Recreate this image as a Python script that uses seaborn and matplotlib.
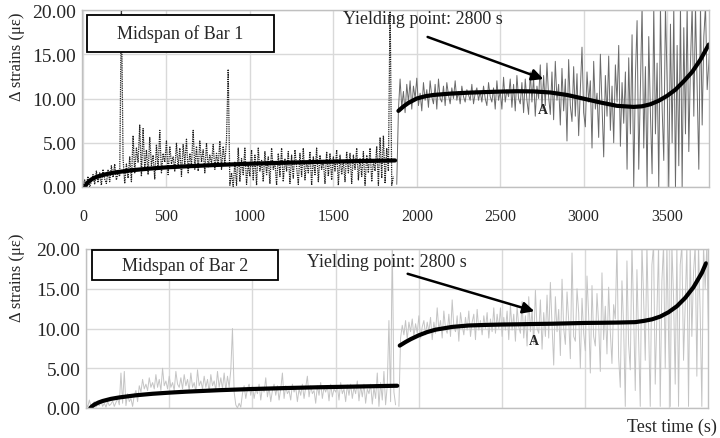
import numpy as np
import pandas as pd
import matplotlib
matplotlib.use("Agg")
import matplotlib.pyplot as plt
from matplotlib.patches import Rectangle, FancyArrowPatch
import seaborn as sns

# ---------------- data ----------------
step = 10  # sampling interval of the hand-read signals (s)

# Bar 1, stage 1 (t = 0 .. 1860 s)
bar1_stage1 = [
    0.0, 0.8, 0.2, 1.2, 0.0, 0.6, 1.4, 0.3, 1.8, 0.5,
    1.6, 0.2, 2.0, 0.9, 0.4, 1.9, 0.6, 2.4, 1.1, 2.6,
    0.8, 1.6, 1.2, 21.0, 3.2, 0.4, 2.6, 1.0, 3.4, 0.6,
    5.8, 1.6, 4.4, 2.8, 7.0, 1.2, 6.6, 2.0, 4.2, 1.4,
    5.6, 2.4, 3.6, 0.9, 4.8, 2.0, 6.4, 1.6, 3.8, 2.8,
    5.2, 1.4, 4.6, 2.6, 3.4, 1.8, 5.0, 2.2, 4.4, 1.2,
    4.8, 2.6, 5.4, 1.6, 3.8, 2.4, 6.4, 2.0, 4.6, 1.8,
    5.2, 2.8, 4.2, 1.6, 5.0, 2.2, 3.6, 2.6, 4.8, 2.0,
    3.8, 2.4, 5.2, 2.0, 4.6, 2.6, 5.4, 13.3, 0.2, 1.6,
    0.0, 2.8, 0.2, 4.4, 0.6, 3.2, 1.4, 4.4, 0.3, 2.6,
    1.2, 4.2, 0.8, 3.6, 0.2, 4.4, 1.8, 3.0, 0.6, 4.0,
    1.4, 3.4, 0.4, 4.4, 2.0, 2.8, 0.2, 3.8, 1.2, 4.4,
    0.6, 3.2, 1.8, 4.0, 0.4, 3.6, 1.0, 4.2, 2.2, 0.3,
    3.8, 1.2, 4.4, 0.8, 3.0, 1.6, 4.0, 0.2, 3.4, 1.4,
    4.4, 0.6, 3.6, 2.0, 3.0, 0.4, 4.0, 1.2, 3.8, 0.8,
    3.4, 1.8, 4.2, 0.2, 3.6, 1.4, 3.0, 0.6, 4.0, 1.6,
    3.8, 0.4, 3.6, 2.0, 4.4, 0.8, 3.2, 1.2, 4.0, 0.2,
    3.6, 1.6, 4.4, 0.6, 3.0, 1.8, 4.6, 0.2, 5.6, 1.0,
    5.8, 0.4, 4.4, 1.8, 21.0, 0.2, 1.2,
]
# Bar 1, stage 2 (t = 1880 .. 3760 s)
bar1_stage2 = [
    0.3, 8.7, 12.2, 9.0, 10.8, 8.4, 11.6, 9.6, 12.0, 8.8,
    11.4, 10.0, 12.3, 9.2, 10.6, 8.6, 11.8, 9.8, 11.0, 9.0,
    12.0, 10.2, 9.4, 11.6, 8.8, 12.2, 10.0, 9.6, 11.4, 9.2,
    11.8, 10.4, 9.4, 11.2, 10.0, 12.0, 9.8, 10.8, 9.4, 11.4,
    10.2, 9.6, 11.0, 10.4, 9.8, 11.6, 9.4, 10.6, 11.2, 9.8,
    10.8, 9.6, 11.4, 10.0, 9.2, 11.8, 10.2, 9.6, 11.2, 8.8,
    12.0, 9.8, 10.8, 8.8, 12.4, 9.6, 11.0, 10.2, 12.2, 9.0,
    11.6, 8.6, 12.6, 10.0, 9.4, 11.8, 8.4, 12.2, 9.8, 8.2,
    13.0, 9.6, 12.4, 8.0, 11.4, 10.0, 13.8, 8.8, 12.6, 9.2,
    14.0, 10.2, 8.2, 13.0, 7.6, 14.2, 9.8, 11.6, 7.0, 13.4,
    8.6, 12.2, 5.2, 14.4, 9.2, 7.4, 13.6, 8.0, 12.8, 5.8,
    11.0, 15.8, 8.4, 6.8, 13.0, 9.6, 12.0, 4.4, 14.2, 8.8,
    10.6, 5.6, 15.0, 9.2, 3.4, 12.6, 8.0, 14.8, 6.4, 11.4,
    5.0, 13.8, 9.6, 16.0, 4.6, 11.8, 7.2, 13.0, 2.0, 14.6,
    6.0, 17.2, 0.0, 12.4, 18.8, 2.0, 11.0, 20.5, 4.4, 13.6,
    0.0, 17.0, 8.4, 1.5, 20.5, 6.0, 14.0, 0.0, 20.5, 9.0,
    3.0, 20.5, 12.0, 0.0, 18.4, 5.0, 20.5, 0.0, 16.0, 2.4,
    20.5, 0.0, 18.0, 6.0, 20.5, 4.0, 14.0, 20.5, 8.0, 20.5,
    11.0, 2.0, 20.5, 7.0, 17.0, 20.5, 11.0, 14.0, 18.0,
]
# Bar 2, stage 1 (t = 0 .. 1860 s)
bar2_stage1 = [
    0.6, 0.1, 1.0, 0.2, 0.4, 0.8, 0.1, 0.5, 0.3, 0.9,
    0.2, 0.6, 0.1, 0.8, 0.3, 0.5, 0.9, 0.2, 0.7, 1.2,
    0.4, 4.4, 0.6, 4.6, 0.3, 1.8, 0.8, 1.2, 0.2, 1.6,
    2.2, 0.8, 2.8, 2.0, 3.6, 2.4, 3.0, 2.2, 3.8, 2.6,
    3.2, 2.4, 4.2, 2.6, 3.6, 2.2, 5.0, 2.8, 3.4, 2.4,
    4.0, 2.6, 3.2, 2.2, 4.6, 3.0, 2.6, 3.8, 2.4, 4.2,
    2.8, 3.6, 2.2, 4.4, 2.6, 3.2, 2.0, 4.8, 2.8, 3.4,
    2.4, 4.0, 2.6, 3.6, 2.0, 4.2, 2.8, 3.4, 2.2, 4.6,
    2.6, 3.8, 2.4, 4.4, 2.2, 4.0, 2.6, 4.8, 10.0, 2.0,
    0.4, 0.0, 0.6, 0.1, 1.8, 2.8, 1.2, 2.4, 3.0, 1.6,
    2.8, 1.2, 2.4, 1.8, 3.0, 1.0, 2.6, 2.0, 3.8, 1.4,
    2.6, 0.8, 2.2, 3.0, 1.6, 2.8, 1.0, 2.4, 4.4, 1.2,
    2.8, 1.8, 2.2, 1.0, 3.0, 2.0, 2.6, 0.8, 2.4, 1.6,
    3.0, 1.2, 2.6, 4.0, 1.4, 2.8, 1.8, 2.2, 0.6, 2.8,
    1.6, 3.2, 1.2, 2.6, 2.0, 2.8, 0.9, 3.0, 1.4, 2.4,
    2.0, 2.8, 1.0, 3.2, 1.8, 2.4, 0.8, 2.9, 1.6, 3.0,
    1.2, 2.6, 1.8, 3.4, 0.9, 2.8, 1.4, 3.0, 0.6, 2.4,
    1.8, 3.0, 0.5, 2.6, 1.2, 4.4, 0.2, 3.2, 1.0, 4.6,
    0.4, 2.8, 11.0, 0.8, 21.0, 2.0, 0.4,
]
# Bar 2, stage 2 (t = 1880 .. 3740 s)
bar2_stage2 = [
    0.2, 8.8, 10.4, 9.2, 11.0, 8.6, 10.8, 9.6, 11.2, 9.0,
    10.6, 9.4, 11.6, 8.8, 10.2, 11.0, 9.2, 10.8, 9.6, 11.4,
    8.6, 10.8, 9.4, 12.6, 9.8, 11.0, 8.8, 12.2, 10.0, 9.4,
    11.8, 9.0, 13.6, 10.2, 9.6, 11.6, 8.4, 12.0, 10.4, 9.2,
    11.4, 9.8, 12.2, 9.0, 10.8, 11.8, 8.6, 12.4, 9.8, 11.0,
    9.2, 11.6, 10.0, 12.0, 8.8, 11.2, 9.6, 12.6, 9.4, 11.8,
    10.0, 12.6, 9.0, 11.4, 9.8, 12.2, 8.6, 13.0, 9.8, 11.8,
    8.4, 12.8, 10.2, 9.4, 13.4, 8.8, 11.6, 7.8, 14.0, 9.6,
    12.4, 8.0, 14.8, 10.0, 9.4, 13.6, 7.4, 12.0, 9.0, 14.2,
    8.8, 15.8, 10.4, 5.4, 14.0, 9.6, 12.4, 6.6, 16.2, 10.0,
    8.0, 14.6, 11.0, 6.2, 19.5, 9.0, 8.4, 15.0, 12.0, 5.0,
    13.8, 9.4, 7.2, 16.6, 11.6, 4.4, 15.4, 9.0, 7.8, 14.4,
    10.6, 4.6, 17.0, 8.6, 12.8, 6.8, 15.2, 9.6, 5.6, 13.0,
    11.2, 20.5, 6.4, 2.6, 16.0, 10.4, 0.2, 18.5, 8.0, 4.8,
    20.5, 12.0, 2.2, 17.4, 9.0, 0.2, 20.5, 14.0, 6.0, 20.5,
    10.0, 0.2, 18.0, 20.5, 3.0, 12.0, 20.5, 0.2, 16.0, 20.5,
    5.0, 20.5, 9.0, 0.2, 20.5, 14.0, 3.0, 20.5, 0.2, 18.0,
    20.5, 6.0, 13.0, 20.5, 0.2, 20.5, 9.0, 17.0, 20.5, 4.0,
    20.5, 12.0, 0.2, 20.5, 15.0, 20.5, 9.0,
]

# Trend lines
fit1a_t = [12, 20, 30, 50, 75, 100, 150, 200, 300, 400, 500, 600, 800, 1000, 1200, 1400, 1600, 1870]
fit1a_v = [0.0, 0.30, 0.54, 0.85, 1.09, 1.26, 1.50, 1.67, 1.91, 2.08, 2.22, 2.32, 2.49, 2.63, 2.74, 2.83, 2.91, 3.00]
fit1b_t = [1890, 1920, 1950, 2000, 2050, 2100, 2200, 2300, 2400, 2500, 2600, 2700, 2800, 2900, 3000,
           3100, 3200, 3300, 3350, 3400, 3450, 3500, 3550, 3600, 3650, 3700, 3750]
fit1b_v = [8.6, 9.1, 9.5, 10.0, 10.25, 10.4, 10.55, 10.65, 10.72, 10.78, 10.82, 10.8, 10.68, 10.4, 9.98,
           9.55, 9.17, 9.05, 9.12, 9.35, 9.75, 10.3, 11.0, 11.95, 13.0, 14.4, 16.1]
fit2a_t = [26, 35, 50, 75, 100, 150, 200, 300, 400, 500, 600, 800, 1000, 1200, 1400, 1600, 1870]
fit2a_v = [0.0, 0.19, 0.43, 0.69, 0.88, 1.15, 1.33, 1.60, 1.79, 1.93, 2.05, 2.24, 2.39, 2.51, 2.61, 2.69, 2.80]
fit2b_t = [1885, 1920, 1950, 2000, 2050, 2100, 2200, 2300, 2400, 2500, 2600, 2700, 2800, 2900, 3000,
           3100, 3200, 3300, 3350, 3400, 3450, 3500, 3550, 3600, 3650, 3700, 3725]
fit2b_v = [7.85, 8.3, 8.65, 9.15, 9.55, 9.85, 10.2, 10.38, 10.45, 10.5, 10.53, 10.57, 10.6, 10.65, 10.7,
           10.72, 10.75, 10.8, 10.95, 11.15, 11.5, 12.05, 12.8, 13.85, 15.2, 17.0, 18.2]

x_ticks = [0, 500, 1000, 1500, 2000, 2500, 3000, 3500]
y_ticks = [0, 5, 10, 15, 20]

# ---------------- styling ----------------
sns.set_style("white")
plt.rcParams["font.family"] = ["Liberation Serif", "DejaVu Serif"]

W, H = 720, 439
fig = plt.figure(figsize=(7.2, 4.39), dpi=100)


def fx(px):
    return px / W


def fy(py):
    return 1 - py / H


ax1 = fig.add_axes([fx(82), fy(188), (709 - 82) / W, (188 - 11) / H])
ax2 = fig.add_axes([fx(86), fy(409), (708 - 86) / W, (409 - 250) / H])


def signal_frame(values, t0):
    t = t0 + np.arange(len(values)) * step
    return pd.DataFrame({"t": t, "v": values})


def style_axes(ax, xlim, show_xlabels):
    ax.set_xlim(*xlim)
    ax.set_ylim(0, 20)
    ax.set_xticks(x_ticks)
    ax.set_yticks(y_ticks)
    ax.set_yticklabels([f"{v:.2f}" for v in y_ticks], fontsize=14)
    if show_xlabels:
        ax.set_xticklabels([str(v) for v in x_ticks], fontsize=11.5)
    else:
        ax.set_xticklabels([])
    ax.tick_params(axis="x", length=0, pad=15)
    ax.tick_params(axis="y", length=0, pad=4)
    ax.grid(True, color="#d9d9d9", lw=1.0)
    ax.set_axisbelow(True)
    for s in ax.spines.values():
        s.set_color("#c0c0c0")
        s.set_linewidth(1.0)
    ax.set_xlabel("")
    ax.set_ylabel("")


# ---- top panel: Bar 1 ----
d = signal_frame(bar1_stage1, 0)
sns.lineplot(data=d, x="t", y="v", ax=ax1, color="#202020", lw=0.9,
             linestyle=(0, (1, 0.8)), estimator=None, sort=False)
d = signal_frame(bar1_stage2, 1880)
sns.lineplot(data=d, x="t", y="v", ax=ax1, color="#6a6a6a", lw=0.7,
             estimator=None, sort=False)
sns.lineplot(x=fit1a_t, y=fit1a_v, ax=ax1, color="black", lw=3.0, estimator=None, sort=False)
sns.lineplot(x=fit1b_t, y=fit1b_v, ax=ax1, color="black", lw=3.0, estimator=None, sort=False)
style_axes(ax1, (-6, 3751), True)

# ---- bottom panel: Bar 2 ----
d = signal_frame(bar2_stage1, 0)
sns.lineplot(data=d, x="t", y="v", ax=ax2, color="#c4c4c4", lw=0.7,
             estimator=None, sort=False)
d = signal_frame(bar2_stage2, 1880)
sns.lineplot(data=d, x="t", y="v", ax=ax2, color="#c4c4c4", lw=0.7,
             estimator=None, sort=False)
sns.lineplot(x=fit2a_t, y=fit2a_v, ax=ax2, color="black", lw=3.0, estimator=None, sort=False)
sns.lineplot(x=fit2b_t, y=fit2b_v, ax=ax2, color="black", lw=3.0, estimator=None, sort=False)
style_axes(ax2, (6, 3737), False)

# ---- annotations ----
for (x0, y0, x1, y1), label in [((87, 16, 274, 53), "Midspan of Bar 1"),
                                ((92, 251, 278, 281), "Midspan of Bar 2")]:
    fig.patches.append(Rectangle((fx(x0), fy(y1)), (x1 - x0) / W, (y1 - y0) / H,
                                 transform=fig.transFigure, fill=True, facecolor="white",
                                 edgecolor="black", lw=1.3, zorder=5))
    fig.text(fx((x0 + x1) / 2), fy((y0 + y1) / 2), label, ha="center", va="center",
             fontsize=13, zorder=6)

fig.text(fx(343), fy(20), "Yielding point: 2800 s", ha="left", va="center", fontsize=13)
fig.text(fx(307), fy(263), "Yielding point: 2800 s", ha="left", va="center", fontsize=13)

for (sx, sy), (tx, ty) in [((425, 37), (546, 81)), ((405, 274), (537, 313))]:
    fig.add_artist(FancyArrowPatch(
        (fx(sx), fy(sy)), (fx(tx), fy(ty)), transform=fig.transFigure,
        arrowstyle="-|>", mutation_scale=17, color="black", lw=1.8, zorder=7))

fig.text(fx(543), fy(110), "A", ha="center", va="center", fontsize=10, fontweight="bold")
fig.text(fx(534), fy(342), "A", ha="center", va="center", fontsize=10, fontweight="bold")

fig.text(fx(17), fy(57), "Δ strains (με)", rotation=90, ha="center", va="center", fontsize=12)
fig.text(fx(17), fy(278), "Δ strains (με)", rotation=90, ha="center", va="center", fontsize=12)
fig.text(fx(717), fy(427), "Test time (s)", ha="right", va="center", fontsize=13)

fig.savefig("out.png", dpi=100)
